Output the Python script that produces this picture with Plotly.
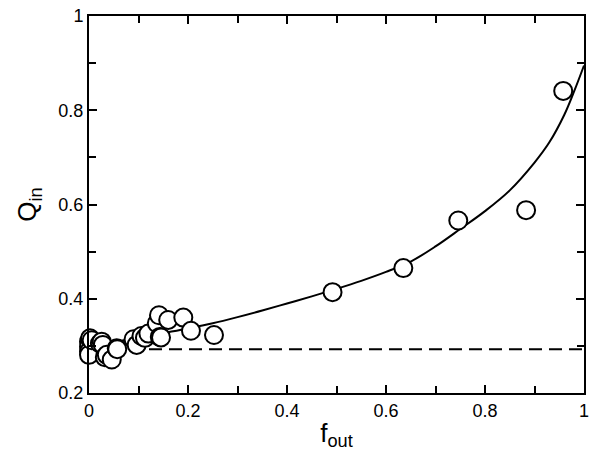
import plotly.graph_objects as go

# Data points (f_out, Q_in)
f_out = [0.0, 0.0, 0.0, 0.0, 0.002, 0.0054, 0.022, 0.0256, 0.028, 0.032, 0.036, 0.046,
         0.056, 0.057, 0.090, 0.0963, 0.106, 0.113, 0.120, 0.137, 0.1414, 0.143, 0.1455,
         0.160, 0.1905, 0.206, 0.2525, 0.492, 0.635, 0.746, 0.883, 0.958]
q_in = [0.309, 0.298, 0.288, 0.281, 0.316, 0.312, 0.305, 0.309, 0.302, 0.276, 0.281, 0.271,
        0.295, 0.293, 0.314, 0.302, 0.321, 0.317, 0.326, 0.348, 0.365, 0.319, 0.318,
        0.355, 0.360, 0.332, 0.323, 0.414, 0.465, 0.566, 0.588, 0.841]

# Fitted curve
fit_f = [0.0, 0.05, 0.1, 0.15, 0.2, 0.25, 0.3, 0.35, 0.4, 0.45, 0.5, 0.55, 0.6, 0.65,
         0.7, 0.75, 0.8, 0.85, 0.9, 0.93, 0.96, 0.98, 1.0]
fit_q = [0.300, 0.308, 0.317, 0.327, 0.337, 0.348, 0.361, 0.375, 0.390, 0.405, 0.421,
         0.438, 0.457, 0.479, 0.511, 0.548, 0.586, 0.630, 0.689, 0.732, 0.790, 0.840, 0.895]

# Baseline (dashed)
base_f = [0.0, 1.0]
base_q = [0.293, 0.293]

x_ticks = [0, 0.2, 0.4, 0.6, 0.8, 1.0]
x_labels = ["0", "0.2", "0.4", "0.6", "0.8", "1"]
y_ticks = [0.2, 0.4, 0.6, 0.8, 1.0]
y_labels = ["0.2", "0.4", "0.6", "0.8", "1"]

FONT = "Liberation Sans, Arial, sans-serif"

fig = go.Figure()
fig.add_trace(go.Scatter(x=base_f, y=base_q, mode="lines",
                         line=dict(color="black", width=2, dash="13px,7px"),
                         showlegend=False, hoverinfo="skip"))
fig.add_trace(go.Scatter(x=fit_f, y=fit_q, mode="lines", line_shape="spline",
                         line=dict(color="black", width=2),
                         showlegend=False, hoverinfo="skip"))
fig.add_trace(go.Scatter(x=f_out, y=q_in, mode="markers",
                         marker=dict(size=18, color="white",
                                     line=dict(color="black", width=2)),
                         showlegend=False, cliponaxis=False))

axis_common = dict(
    showgrid=False, zeroline=False, showline=True, linecolor="black", linewidth=2,
    mirror="ticks", ticks="inside", ticklen=8, tickwidth=1.5, tickcolor="black",
    tickfont=dict(family=FONT, size=18, color="black"),
    minor=dict(dtick=0.1, ticks="inside", ticklen=7, tickwidth=1.5, tickcolor="black"),
    automargin=False,
)

fig.update_layout(
    width=600, height=467,
    margin=dict(l=89, r=16, t=16, b=74),
    plot_bgcolor="white", paper_bgcolor="white",
    xaxis=dict(range=[0, 1], tickvals=x_ticks, ticktext=x_labels,
               title=dict(text="f<sub>out</sub>", standoff=4,
                          font=dict(family=FONT, size=26, color="black")),
               **axis_common),
    yaxis=dict(range=[0.2, 1], tickvals=y_ticks, ticktext=y_labels,
               title=dict(text="Q<sub>in</sub>", standoff=14,
                          font=dict(family=FONT, size=26, color="black")),
               **axis_common),
)

fig.write_html("out.html",
               config={"displayModeBar": False},
               post_script="document.body.style.margin='0';document.body.style.overflow='hidden';")
